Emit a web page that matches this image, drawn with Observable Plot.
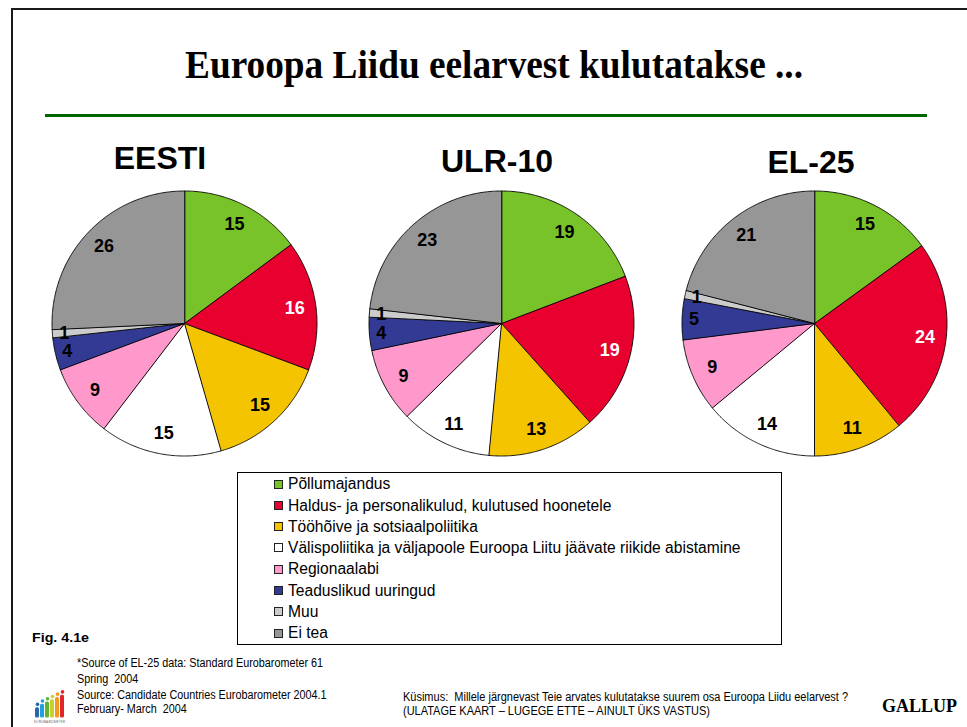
<!DOCTYPE html>
<html><head><meta charset="utf-8">
<script src="https://cdn.jsdelivr.net/npm/d3@7"></script>
<script src="https://cdn.jsdelivr.net/npm/@observablehq/plot@0.6"></script>
<style>
body{margin:0;background:#fff;}
#page{position:relative;width:967px;height:727px;overflow:hidden;background:#fff;font-family:"Liberation Sans",Arial,sans-serif;color:#000;}
.abs{position:absolute;white-space:pre;}
</style></head><body><div id="page"></div>
<script>
// ---- data ----
const title = "Euroopa Liidu eelarvest kulutatakse ...";
const categories = [
  "Põllumajandus",
  "Haldus- ja personalikulud, kulutused hoonetele",
  "Tööhõive ja sotsiaalpoliitika",
  "Välispoliitika ja väljapoole Euroopa Liitu jäävate riikide abistamine",
  "Regionaalabi",
  "Teaduslikud uuringud",
  "Muu",
  "Ei tea"
];
const colors = ["#78C32A","#E8002E","#F5C400","#FFFFFF","#FF99CC","#333A94","#CCCCCC","#969696"];
const regions = ["EESTI","ULR-10","EL-25"];
const valuesEesti = [15,16,15,15,9,4,1,26];
const valuesUlr10 = [19,19,13,11,9,4,1,23];
const valuesEl25  = [15,24,11,14,9,5,1,21];
const footnotes = ["*Source of EL-25 data: Standard Eurobarometer 61","Spring  2004","Source: Candidate Countries Eurobarometer 2004.1","February- March  2004"];
const question = ["Küsimus:  Millele järgnevast Teie arvates kulutatakse suurem osa Euroopa Liidu eelarvest ?","(ULATAGE KAART – LUGEGE ETTE – AINULT ÜKS VASTUS)"];
const logoColors = ["#2B63AE","#22A0DA","#5DB535","#C9D22B","#F39A1E","#E0252B"];
const logoHeights = [9,12,14,16,18,20];

const page = document.getElementById("page");
const SANS = '"Liberation Sans", Arial, sans-serif';
const SERIF = '"Liberation Serif", "Times New Roman", serif';

function box(css){const d=document.createElement("div");d.className="abs";Object.assign(d.style,css);page.appendChild(d);return d;}
function txt(s,{x,cy,size,family=SANS,weight="normal",align="left",fitW=null,color="#000"}){
  const d=box({fontFamily:family,fontSize:size+"px",fontWeight:weight,lineHeight:size+"px",color});
  d.textContent=s;
  d.style.top=(cy-0.5*size)+"px";
  let w=d.getBoundingClientRect().width, sc=1;
  if(fitW){sc=fitW/w;}
  const ww=w*sc;
  d.style.transformOrigin="0 0";
  if(sc!==1) d.style.transform=`scaleX(${sc})`;
  d.style.left=(align==="center"?x-ww/2:x)+"px";
  return {el:d,scale:sc};
}

// frame
box({left:"11px",top:"8px",width:"956px",height:"2px",background:"#1a1a1a"});
box({left:"11px",top:"8px",width:"2px",height:"719px",background:"#1a1a1a"});

// title & rule
txt(title,{x:494,cy:64,size:41,family:SERIF,weight:"bold",align:"center",fitW:618});
box({left:"45px",top:"114px",width:"882px",height:"3px",background:"#006600"});

// pies
const L = 140/132.5;
function piePlot(values){
  const arcs = d3.pie().sort(null).value(d=>d)(values);
  const pts = [];
  arcs.forEach((a,i)=>{
    const cat = categories[i];
    pts.push({cat,x:0,y:0});
    const n = Math.max(2,Math.ceil((a.endAngle-a.startAngle)/(Math.PI/360)));
    for(let k=0;k<=n;k++){
      const t=a.startAngle+(a.endAngle-a.startAngle)*k/n;
      pts.push({cat,x:Math.sin(t),y:Math.cos(t)});
    }
  });
  const labels = arcs.map((a,i)=>{
    const m=(a.startAngle+a.endAngle)/2, r=values[i]<=5?0.91:0.84;
    return {cat:categories[i],v:values[i],x:r*Math.sin(m),y:r*Math.cos(m)};
  });
  return Plot.plot({
    width:280,height:280,margin:0,
    style:{fontFamily:SANS,background:"transparent",overflow:"visible"},
    x:{domain:[-L,L],axis:null},
    y:{domain:[-L,L],axis:null},
    color:{domain:categories,range:colors},
    marks:[
      Plot.line(pts,{x:"x",y:"y",z:"cat",fill:"cat",stroke:"#000",strokeWidth:0.9,curve:"linear-closed"}),
      Plot.text(labels.filter(d=>d.cat!==categories[1]),{x:"x",y:"y",text:"v",fill:"#000",fontSize:18,fontWeight:"bold"}),
      Plot.text(labels.filter(d=>d.cat===categories[1]),{x:"x",y:"y",text:"v",fill:"#fff",fontSize:18,fontWeight:"bold"})
    ]
  });
}
const pieSets=[valuesEesti,valuesUlr10,valuesEl25];
const pieCenters=[[184,323],[501,323],[814,323]];
const titleCx=[160,497,811], titleCy=[158,160.5,162];
pieSets.forEach((v,i)=>{
  const p=piePlot(v);
  const d=box({left:(pieCenters[i][0]-140)+"px",top:(pieCenters[i][1]-140)+"px"});
  d.appendChild(p);
  txt(regions[i],{x:titleCx[i],cy:titleCy[i],size:32,weight:"bold",align:"center"});
});

// legend
box({left:"237px",top:"472px",width:"545px",height:"173px",border:"1px solid #000",boxSizing:"border-box"});
let legScale=null;
categories.forEach((c,i)=>{
  const cy=484+i*21.3;
  box({left:"274px",top:(cy-4.5)+"px",width:"9px",height:"9px",background:colors[i],border:"1px solid #222",boxSizing:"border-box"});
  txt(c,{x:288,cy,size:15.6});
});

// figure label & footnotes
txt("Fig. 4.1e",{x:32,cy:637,size:13,weight:"bold",fitW:57});
const fy=[663,679,694.5,709];
const f0=txt(footnotes[0],{x:77,cy:fy[0],size:12,fitW:246});
footnotes.slice(1).forEach((s,i)=>{const t=txt(s,{x:77,cy:fy[i+1],size:12});t.el.style.transform=`scaleX(${f0.scale})`;});
const q0=txt(question[0],{x:403,cy:697,size:12,fitW:445});
const q1=txt(question[1],{x:403,cy:711,size:12});q1.el.style.transform=`scaleX(${q0.scale})`;
txt("GALLUP",{x:882,cy:706,size:18,family:SERIF,weight:"bold"});

// Eurobarometer logo
const logoData=logoColors.map((c,i)=>({i,c,h:logoHeights[i]}));
const logo=Plot.plot({
  width:34,height:34,margin:0,
  style:{background:"transparent",overflow:"visible"},
  x:{domain:logoData.map(d=>d.i),axis:null,padding:0.25},
  y:{domain:[-4,26],axis:null},
  color:{type:"identity"},
  marks:[
    Plot.barY(logoData,{x:"i",y:"h",fill:"c",rx:1.5}),
    Plot.dot(logoData,{x:"i",y:d=>d.h+3,r:1.8,fill:"c"}),
    Plot.text(["EUROBAROMETER"],{frameAnchor:"bottom",dy:0,text:d=>d,fontSize:3.6,fill:"#777",letterSpacing:"0.3px"})
  ]
});
const ld=box({left:"32px",top:"688px"});ld.appendChild(logo);
</script></body></html>
